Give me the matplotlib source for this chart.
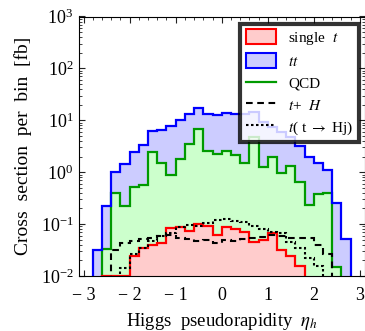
import matplotlib
matplotlib.use("Agg")
import matplotlib.pyplot as plt
import numpy as np
from matplotlib.patches import Patch
from matplotlib.lines import Line2D
from matplotlib.ticker import LogLocator, MultipleLocator

plt.rcParams['font.family'] = ['Liberation Serif', 'DejaVu Serif']
plt.rcParams['mathtext.fontset'] = 'stix'

BELOW = 1e-3  # bins empty / below the plotted range

edges = np.round(np.arange(-2.8, 2.81, 0.2), 2)

# single t (red)
single_t = [BELOW, 0.0102, 0.0102, 0.0102, 0.024, 0.034, 0.039, 0.043,
            0.083, 0.089, 0.073, 0.100, 0.092, 0.063, 0.086, 0.079,
            0.072, 0.045, 0.050, 0.067, 0.031, 0.024, 0.0155, BELOW,
            BELOW, BELOW, BELOW, BELOW]
# tt (blue)
tt = [0.031, 0.22, 1.0, 1.47, 2.45, 3.3, 6.2, 6.6,
      7.9, 10.2, 13.5, 17.4, 13.0, 12.5, 13.9, 13.5,
      13.0, 14.5, 9.4, 7.5, 6.0, 4.8, 3.2, 2.0,
      1.5, 1.08, 0.25, 0.051]
# QCD (green)
qcd = [BELOW, 0.033, 0.40, 0.22, 0.53, 0.56, 2.5, 1.5,
       0.9, 1.83, 3.5, 6.9, 2.6, 2.25, 2.6, 2.15,
       1.5, 4.7, 1.26, 1.93, 0.95, 1.33, 0.64, 0.23,
       0.38, 0.39, 0.015, BELOW]
# t + H (dashed)
tH = [BELOW, BELOW, 0.032, 0.044, 0.048, 0.052, 0.055, 0.059,
      0.063, 0.054, 0.051, 0.047, 0.049, 0.043, 0.049, 0.048,
      0.052, 0.053, 0.056, 0.063, 0.058, 0.055, 0.054, 0.055,
      0.039, 0.026, BELOW, BELOW]
# t(t -> Hj) (dotted)
tHj = [BELOW, BELOW, BELOW, 0.014, 0.026, 0.035, 0.047, 0.058,
       0.068, 0.088, 0.096, 0.090, 0.103, 0.118, 0.126, 0.114,
       0.110, 0.090, 0.082, 0.072, 0.066, 0.046, 0.034, 0.022,
       0.0155, BELOW, BELOW, BELOW]

fig = plt.figure(figsize=(3.65, 3.31), dpi=100)
ax = fig.add_axes([79/365, 1-276/331, (364.5-79)/365, (276-16.5)/331])

base = 1e-4
ax.stairs(tt, edges, baseline=base, fill=True, color='#ccccff', lw=0, zorder=1)
ax.stairs(qcd, edges, baseline=base, fill=True, color='#ccffcc', lw=0, zorder=2)
ax.stairs(single_t, edges, baseline=base, fill=True, color='#ffcccc', lw=0, zorder=3)

ax.stairs(qcd, edges, baseline=base, color='#009a00', lw=1.6, zorder=4)
ax.stairs(tt, edges, baseline=base, color='#0000ff', lw=1.6, zorder=5)
ax.stairs(single_t, edges, baseline=base, color='#ff0000', lw=1.6, zorder=6)
ax.stairs(tH, edges, baseline=base, color='black', lw=1.5, ls=(0, (3.2, 2.2)), zorder=7)
ax.stairs(tHj, edges, baseline=base, color='black', lw=1.5, ls=(0, (1.2, 1.2)), zorder=8)

ax.set_yscale('log')
ax.set_ylim(1e-2, 1e3)
ax.set_xlim(-3.1, 3.1)
ax.xaxis.set_major_locator(MultipleLocator(1))
ax.xaxis.set_minor_locator(MultipleLocator(0.2))
ax.yaxis.set_major_locator(LogLocator(base=10, numticks=10))
ax.yaxis.set_minor_locator(LogLocator(base=10, subs=np.arange(2, 10), numticks=20))
ax.tick_params(which='both', direction='in', top=True, right=True, color='#222222')
ax.tick_params(axis='y', labelsize=13, pad=4)
ax.tick_params(axis='x', labelsize=13, pad=8)
ax.tick_params(which='major', length=4, width=0.8)
ax.tick_params(which='minor', length=2, width=0.6)
ax.set_xticks([-3, -2, -1, 0, 1, 2, 3])
ax.set_xticklabels(['\u2212 3', '\u2212 2', '\u2212 1', '0', '1', '2', '3'])
for s in ax.spines.values():
    s.set_linewidth(0.8)
    s.set_zorder(10)

ax.set_xlabel(r'Higgs  pseudorapidity  $\eta_h$', fontsize=13.5, labelpad=5)
ax.set_ylabel('Cross  section  per  bin  [fb]', fontsize=14, labelpad=6)

handles = [Patch(facecolor='#ffcccc', edgecolor='#ff0000', lw=1.5),
           Patch(facecolor='#ccccff', edgecolor='#0000ff', lw=1.5),
           Line2D([], [], color='#009a00', lw=1.6),
           Line2D([], [], color='black', lw=1.5, ls=(0, (3.2, 2.2))),
           Line2D([], [], color='black', lw=1.5, ls=(0, (1.2, 1.2)))]
labels = [r'single  $t$', r'$tt$', 'QCD', r'$t$+  $H$', r'$t$( t $\rightarrow$ Hj)']
leg = ax.legend(handles, labels, loc='upper right', bbox_to_anchor=(0.981, 0.971),
                borderaxespad=0, fontsize=11, frameon=True, fancybox=False,
                facecolor=(1, 1, 1, 0.75), framealpha=None, edgecolor='black',
                handlelength=2.0, handleheight=1.1, labelspacing=0.42,
                borderpad=0.35, handletextpad=0.8)
leg.get_frame().set_linewidth(3)
leg.get_frame().set_edgecolor((0, 0, 0, 1))
leg.set_zorder(20)

fig.savefig('out.png', dpi=100)
